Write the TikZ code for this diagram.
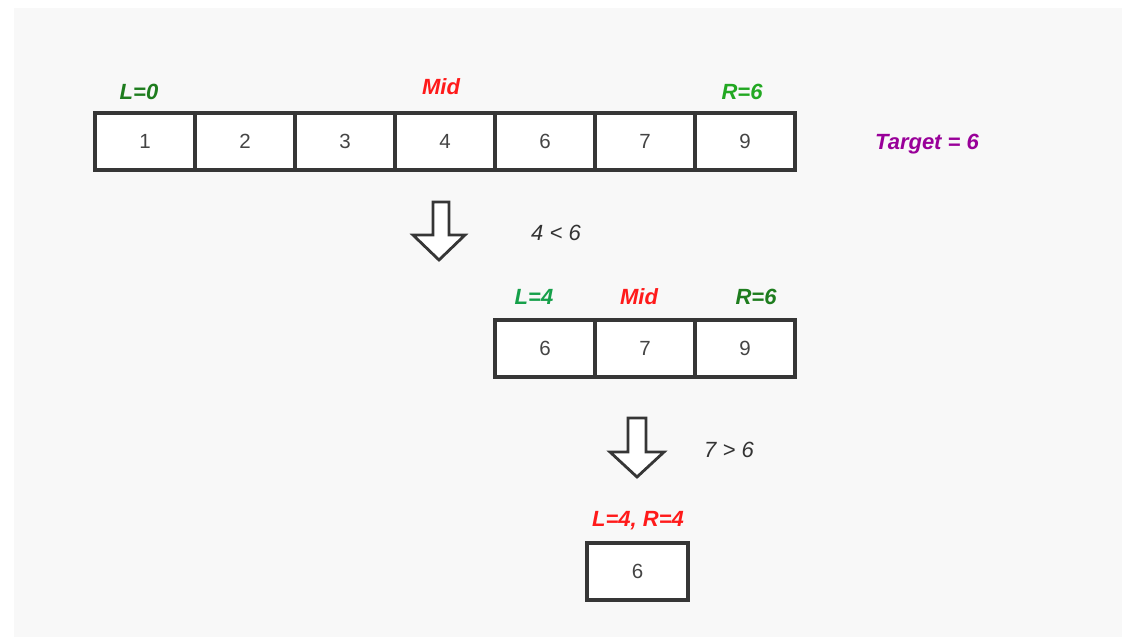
\documentclass[tikz,border=0pt]{standalone}
\usepackage{fontspec}
\setmainfont{Liberation Sans}
\definecolor{bgc}{HTML}{F8F8F8}
\definecolor{linec}{HTML}{363636}
\definecolor{digitc}{HTML}{444444}
\definecolor{dgreen}{HTML}{1E7D1E}
\definecolor{lgreen}{HTML}{22A822}
\definecolor{mgreen}{HTML}{16A04A}
\definecolor{redc}{HTML}{FF1A1A}
\definecolor{purp}{HTML}{990099}
\definecolor{notec}{HTML}{333333}
\tikzset{
  cell/.style={draw=linec, line width=3.4pt, fill=white, minimum width=100pt, minimum height=57pt, inner sep=0pt,
    text=digitc, font=\fontsize{20.5}{24}\selectfont},
  lab/.style={font=\fontsize{22}{26}\selectfont\bfseries\itshape, inner sep=0pt, anchor=center},
  note/.style={font=\fontsize{22}{26}\selectfont\itshape, text=notec, inner sep=0pt},
  bigarrow/.style={draw=linec, line width=2.8pt, fill=white, line join=miter}
}
\begin{document}
\begin{tikzpicture}[x=1pt,y=-1pt]
\useasboundingbox (0,0) rectangle (1122,637);
\fill[white] (0,0) rectangle (1122,637);
\fill[bgc] (14,8) rectangle (1122,637);
% row 1
\foreach \v [count=\i] in {1,2,3,4,6,7,9}{
  \node[cell] (a\i) at ({45+100*\i},141.5) {\v};
}
\node[lab, text=dgreen] (l0) at (139,92) {L=0};
\node[lab, text=redc] (m0) at (441,87) {Mid};
\node[lab, text=lgreen] (r0) at (742,92) {R=6};
\node[lab, text=purp] (tg) at (927,144) {Target = 6};
% arrow 1
\draw[bigarrow] (433,202) -- (449,202) -- (449,235) -- (465,235) -- (439,260) -- (413,235) -- (433,235) -- cycle;
\node[note] (n1) at (556,233) {4 < 6};
% row 2
\foreach \v [count=\i] in {6,7,9}{
  \node[cell] (b\i) at ({445+100*\i},348.5) {\v};
}
\node[lab, text=mgreen] (l1) at (534,297) {L=4};
\node[lab, text=redc] (m1) at (639,297) {Mid};
\node[lab, text=dgreen] (r1) at (756,297) {R=6};
% arrow 2
\draw[bigarrow] (628,418) -- (646,418) -- (646,452) -- (664,452) -- (637,477) -- (610,452) -- (628,452) -- cycle;
\node[note] (n2) at (729,450) {7 > 6};
% row 3
\node[cell, minimum width=101pt] (c1) at (637.5,571.5) {6};
\node[lab, text=redc] (l2) at (638,521) {L=4, R=4};
\end{tikzpicture}
\end{document}
